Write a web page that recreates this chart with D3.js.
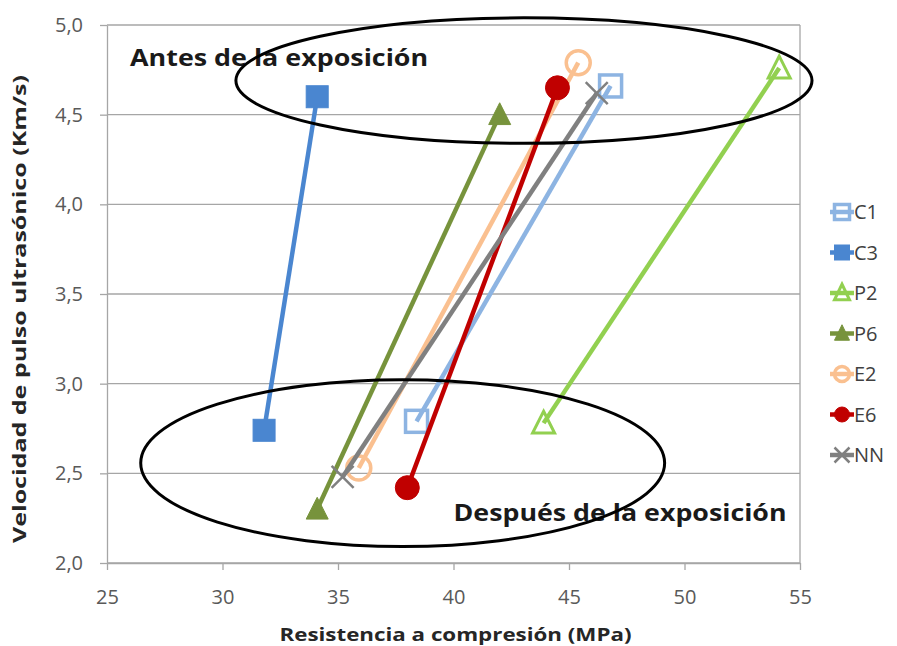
<!DOCTYPE html>
<html>
<head>
<meta charset="utf-8">
<script src="https://cdn.jsdelivr.net/npm/d3@7"></script>
<style>
  html, body { margin: 0; padding: 0; background: #fff; }
  svg { display: block; font-family: "Open Sans", "Noto Sans", sans-serif; }
</style>
</head>
<body>
<div id="chart"></div>
<script>
// Series: [before, after] points as [MPa, km/s]
const seriesNames = ['C1', 'C3', 'P2', 'P6', 'E2', 'E6', 'NN'];
const C1 = [[46.8, 4.66], [38.4, 2.79]];
const C3 = [[34.1, 4.60], [31.8, 2.74]];
const P2 = [[54.1, 4.76], [43.9, 2.78]];
const P6 = [[42.0, 4.50], [34.1, 2.30]];
const E2 = [[45.4, 4.79], [35.9, 2.53]];
const E6 = [[44.5, 4.65], [38.0, 2.42]];
const NN = [[46.2, 4.62], [35.2, 2.48]];

const xTicks = [25, 30, 35, 40, 45, 50, 55];
const yTicks = [2.0, 2.5, 3.0, 3.5, 4.0, 4.5, 5.0];

// annotation ellipses in data units: [cx, cy, rx, ry]
const annotEllipses = [[43.05, 4.69, 12.47, 0.35], [37.8, 2.557, 11.34, 0.465]];
const annotLabels = [
  { text: 'Antes de la exposición', x: 26.0, y: 4.77, len: 298 },
  { text: 'Después de la exposición', x: 40.0, y: 2.235, len: 333 }
];

const styles = {
  C1: { color: '#8DB4E2', shape: 'square', filled: false },
  C3: { color: '#4A86D0', shape: 'square', filled: true },
  P2: { color: '#92D050', shape: 'triangle', filled: false },
  P6: { color: '#77933C', shape: 'triangle', filled: true },
  E2: { color: '#FAC090', shape: 'circle', filled: false },
  E6: { color: '#C00000', shape: 'circle', filled: true },
  NN: { color: '#808080', shape: 'cross', filled: false }
};

const seriesData = { C1, C3, P2, P6, E2, E6, NN };

const width = 897, height = 646;
const margin = { top: 25, right: 97, bottom: 83, left: 107 };
const innerW = width - margin.left - margin.right;
const innerH = height - margin.top - margin.bottom;

const svg = d3.select('#chart').append('svg')
  .attr('width', width)
  .attr('height', height);

const g = svg.append('g')
  .attr('transform', `translate(${margin.left},${margin.top})`);

const x = d3.scaleLinear().domain([25, 55]).range([0, innerW]);
const y = d3.scaleLinear().domain([2, 5]).range([innerH, 0]);
const fmt = d => d3.format('.1f')(d).replace('.', ',');

// gridlines
g.append('g')
  .selectAll('line')
  .data(yTicks)
  .join('line')
  .attr('x1', 0).attr('x2', innerW)
  .attr('y1', d => y(d)).attr('y2', d => y(d))
  .attr('stroke', '#A6A6A6')
  .attr('stroke-width', 1.3);

// right border
g.append('line')
  .attr('x1', innerW).attr('x2', innerW)
  .attr('y1', 0).attr('y2', innerH)
  .attr('stroke', '#A6A6A6')
  .attr('stroke-width', 1.3);

// axes
const xAxis = g.append('g')
  .attr('transform', `translate(0,${innerH})`)
  .call(d3.axisBottom(x).tickValues(xTicks).tickSize(7).tickPadding(20).tickSizeOuter(0));
const yAxis = g.append('g')
  .call(d3.axisLeft(y).tickValues(yTicks).tickFormat(fmt).tickSize(7).tickPadding(17).tickSizeOuter(0));

[xAxis, yAxis].forEach(ax => {
  ax.select('.domain').attr('stroke', '#A6A6A6').attr('stroke-width', 1.3);
  ax.selectAll('.tick line').attr('stroke', '#A6A6A6').attr('stroke-width', 1.3);
  ax.selectAll('.tick text')
    .attr('fill', '#595959')
    .attr('font-size', 20)
    .attr('font-family', '"Open Sans", sans-serif');
});

// axis titles
svg.append('text')
  .attr('x', margin.left + x(40) + 2)
  .attr('y', 641)
  .attr('text-anchor', 'middle')
  .attr('font-size', 18)
  .attr('font-weight', 'bold')
  .attr('fill', '#262626')
  .attr('textLength', 352)
  .attr('lengthAdjust', 'spacingAndGlyphs')
  .text('Resistencia a compresión (MPa)');

svg.append('text')
  .attr('transform', `translate(26,${309}) rotate(-90)`)
  .attr('text-anchor', 'middle')
  .attr('font-size', 18)
  .attr('font-weight', 'bold')
  .attr('fill', '#262626')
  .attr('textLength', 468)
  .attr('lengthAdjust', 'spacingAndGlyphs')
  .text('Velocidad de pulso ultrasónico (Km/s)');

// marker drawing
function drawMarker(sel, st, size) {
  const c = st.color;
  if (st.shape === 'square') {
    sel.append('rect')
      .attr('x', -size / 2).attr('y', -size / 2)
      .attr('width', size).attr('height', size)
      .attr('fill', st.filled ? c : 'none')
      .attr('stroke', c)
      .attr('stroke-width', st.filled ? 1 : 3.5);
  } else if (st.shape === 'circle') {
    sel.append('circle')
      .attr('r', size / 2)
      .attr('fill', st.filled ? c : 'none')
      .attr('stroke', c)
      .attr('stroke-width', st.filled ? 1 : 3.5);
  } else if (st.shape === 'triangle') {
    const h = size * 0.9, w = size;
    sel.append('path')
      .attr('d', `M0,${-h / 2 - 2}L${w / 2},${h / 2}L${-w / 2},${h / 2}Z`)
      .attr('fill', st.filled ? c : 'none')
      .attr('stroke', c)
      .attr('stroke-width', st.filled ? 1 : 3)
      .attr('stroke-linejoin', 'miter');
  } else if (st.shape === 'cross') {
    const s = size / 2;
    sel.append('path')
      .attr('d', `M${-s},${-s}L${s},${s}M${-s},${s}L${s},${-s}`)
      .attr('stroke', c)
      .attr('stroke-width', 2.5);
  }
}

const markerSize = { square: 22, circle: 24, triangle: 22, cross: 22 };

// series lines and markers
const line = d3.line().x(d => x(d[0])).y(d => y(d[1]));
const series = g.append('g');
seriesNames.forEach(name => {
  const st = styles[name];
  const pts = seriesData[name];
  const sg = series.append('g');
  sg.append('path')
    .datum(pts)
    .attr('d', line)
    .attr('fill', 'none')
    .attr('stroke', st.color)
    .attr('stroke-width', 4.5);
  sg.selectAll('g.pt')
    .data(pts)
    .join('g')
    .attr('class', 'pt')
    .attr('transform', d => `translate(${x(d[0])},${y(d[1])})`)
    .each(function () { drawMarker(d3.select(this), st, markerSize[st.shape]); });
});

// annotation labels
g.append('g')
  .selectAll('text')
  .data(annotLabels)
  .join('text')
  .attr('x', d => x(d.x))
  .attr('y', d => y(d.y))
  .attr('font-size', 24)
  .attr('font-weight', 'bold')
  .attr('fill', '#1a1a1a')
  .attr('textLength', d => d.len)
  .attr('lengthAdjust', 'spacingAndGlyphs')
  .text(d => d.text);

// annotation ellipses
g.append('g')
  .selectAll('ellipse')
  .data(annotEllipses)
  .join('ellipse')
  .attr('cx', d => x(d[0]))
  .attr('cy', d => y(d[1]))
  .attr('rx', d => x(25 + d[2]) - x(25))
  .attr('ry', d => y(2) - y(2 + d[3]))
  .attr('fill', 'none')
  .attr('stroke', '#000')
  .attr('stroke-width', 3);

// legend
const legend = svg.append('g')
  .attr('transform', 'translate(830,212)');
const li = legend.selectAll('g')
  .data(seriesNames)
  .join('g')
  .attr('transform', (d, i) => `translate(0,${i * 40.5})`);
li.append('line')
  .attr('x1', 0).attr('x2', 24)
  .attr('stroke', d => styles[d].color)
  .attr('stroke-width', 4.5);
li.append('g')
  .attr('transform', 'translate(12,0)')
  .each(function (d) { drawMarker(d3.select(this), styles[d], 15); });
li.append('text')
  .attr('x', 24)
  .attr('dy', '0.36em')
  .attr('font-size', 20)
  .attr('fill', '#404040')
  .text(d => d);
</script>
</body>
</html>
